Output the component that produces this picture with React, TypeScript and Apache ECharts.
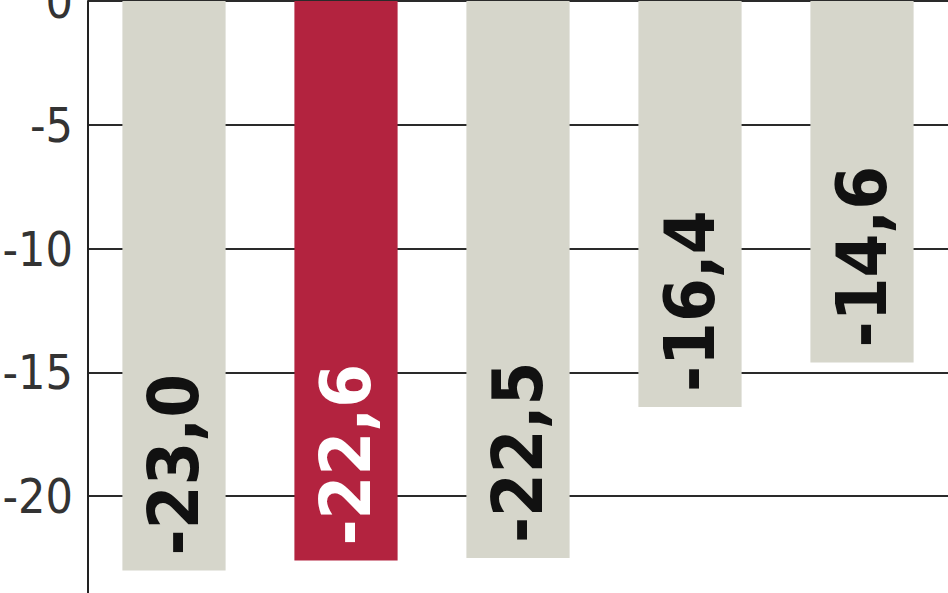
import { useEffect, useRef } from 'react'
import * as echarts from 'echarts'

// values (the chart is a crop, categories are not visible)
const categories = ['1', '2', '3', '4', '5']
const values = [-23.0, -22.6, -22.5, -16.4, -14.6]
const highlightIndex = 1

const yMin = -25
const yMax = 0
const yStep = 5

const GRAY = '#d6d6cb'
const RED = '#b3233f'
const NARROW = '"Liberation Sans Narrow", "DejaVu Sans Condensed", "Roboto", sans-serif'

export default function App() {
  const chartRef = useRef<HTMLDivElement>(null)

  useEffect(() => {
    document.body.style.margin = '0'
    if (!chartRef.current) return
    const chart = echarts.init(chartRef.current, null, { renderer: 'svg' })

    const option: any = {
      animation: false,
      backgroundColor: '#ffffff',
      grid: {
        left: 88,
        right: 0,
        top: 1,
        height: 619,
        containLabel: false,
        outerBoundsMode: 'none',
      },
      xAxis: {
        type: 'category',
        data: categories,
        axisLine: { show: false },
        axisTick: { show: false },
        axisLabel: { show: false },
        splitLine: { show: false },
      },
      yAxis: {
        type: 'value',
        min: yMin,
        max: yMax,
        interval: yStep,
        axisLine: { show: true, lineStyle: { color: '#222222', width: 2 } },
        axisTick: { show: false },
        axisLabel: {
          color: '#333333',
          fontSize: 48,
          fontFamily: NARROW,
          margin: 15,
        },
        splitLine: { lineStyle: { color: '#2a2a2a', width: 2 } },
      },
      series: [
        {
          type: 'bar',
          barWidth: '60%',
          data: values.map((v, i) => ({
            value: v,
            itemStyle: { color: i === highlightIndex ? RED : GRAY },
            label: { color: i === highlightIndex ? '#ffffff' : '#111111' },
          })),
          label: {
            show: true,
            position: 'insideBottom',
            distance: 15,
            rotate: 90,
            align: 'left',
            verticalAlign: 'middle',
            fontSize: 70,
            fontWeight: 'bold',
            fontFamily: NARROW,
            formatter: (p: any) => p.value.toFixed(1).replace('.', ','),
          },
          z: 3,
        },
      ],
    }

    chart.setOption(option)
    return () => {
      chart.dispose()
    }
  }, [])

  return <div ref={chartRef} style={{ width: 948, height: 593 }} />
}
